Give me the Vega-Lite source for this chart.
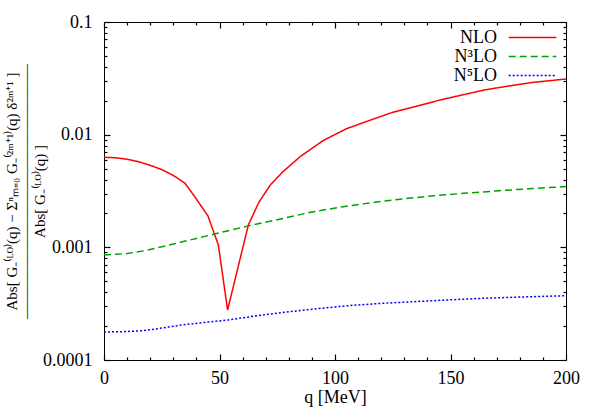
{
  "$schema": "https://vega.github.io/schema/vega-lite/v6.json",
  "width": 462,
  "height": 338,
  "autosize": "none",
  "padding": {"left": 104, "top": 22, "right": 33, "bottom": 60},
  "background": "white",
  "config": {
    "view": {"stroke": "black", "strokeWidth": 1},
    "font": "Liberation Serif",
    "axis": {
      "grid": false,
      "domain": false,
      "labelColor": "black",
      "titleColor": "black",
      "labelFont": "Liberation Serif",
      "titleFont": "Liberation Serif",
      "labelFontSize": 18,
      "titleFontSize": 18,
      "titleFontWeight": "normal"
    },
    "legend": {
      "labelFont": "Liberation Serif",
      "labelFontSize": 18,
      "labelColor": "black"
    }
  },
  "data": {
    "values": [
      {"s": "NLO", "q": 0, "v": 0.0063},
      {"s": "NLO", "q": 5, "v": 0.00624},
      {"s": "NLO", "q": 10, "v": 0.00605},
      {"s": "NLO", "q": 15, "v": 0.00575},
      {"s": "NLO", "q": 20, "v": 0.00535},
      {"s": "NLO", "q": 25, "v": 0.0049},
      {"s": "NLO", "q": 30, "v": 0.00435},
      {"s": "NLO", "q": 35, "v": 0.00372},
      {"s": "NLO", "q": 40, "v": 0.00268},
      {"s": "NLO", "q": 45, "v": 0.0019},
      {"s": "NLO", "q": 49.5, "v": 0.00105},
      {"s": "NLO", "q": 53.5, "v": 0.000278},
      {"s": "NLO", "q": 62.5, "v": 0.00158},
      {"s": "NLO", "q": 67, "v": 0.0025},
      {"s": "NLO", "q": 72, "v": 0.00358},
      {"s": "NLO", "q": 77.5, "v": 0.0047},
      {"s": "NLO", "q": 85, "v": 0.0064},
      {"s": "NLO", "q": 95, "v": 0.0089},
      {"s": "NLO", "q": 105, "v": 0.0113},
      {"s": "NLO", "q": 115, "v": 0.0134},
      {"s": "NLO", "q": 125, "v": 0.0158},
      {"s": "NLO", "q": 135, "v": 0.0178},
      {"s": "NLO", "q": 145, "v": 0.0202},
      {"s": "NLO", "q": 155, "v": 0.0225},
      {"s": "NLO", "q": 165, "v": 0.025},
      {"s": "NLO", "q": 175, "v": 0.027},
      {"s": "NLO", "q": 185, "v": 0.029},
      {"s": "NLO", "q": 192, "v": 0.03},
      {"s": "NLO", "q": 200, "v": 0.0312},
      {"s": "N³LO", "q": 0, "v": 0.000857},
      {"s": "N³LO", "q": 10, "v": 0.00088},
      {"s": "N³LO", "q": 17, "v": 0.00093},
      {"s": "N³LO", "q": 25, "v": 0.00101},
      {"s": "N³LO", "q": 34, "v": 0.00112},
      {"s": "N³LO", "q": 47, "v": 0.0013},
      {"s": "N³LO", "q": 62.5, "v": 0.00155},
      {"s": "N³LO", "q": 75, "v": 0.00176},
      {"s": "N³LO", "q": 90, "v": 0.00206},
      {"s": "N³LO", "q": 105, "v": 0.00232},
      {"s": "N³LO", "q": 115, "v": 0.00248},
      {"s": "N³LO", "q": 130, "v": 0.0027},
      {"s": "N³LO", "q": 143, "v": 0.00287},
      {"s": "N³LO", "q": 157, "v": 0.00303},
      {"s": "N³LO", "q": 171, "v": 0.00318},
      {"s": "N³LO", "q": 185, "v": 0.00332},
      {"s": "N³LO", "q": 200, "v": 0.00346},
      {"s": "N⁵LO", "q": 0, "v": 0.000177},
      {"s": "N⁵LO", "q": 10, "v": 0.000179},
      {"s": "N⁵LO", "q": 17, "v": 0.000182},
      {"s": "N⁵LO", "q": 25, "v": 0.000192},
      {"s": "N⁵LO", "q": 34, "v": 0.000205},
      {"s": "N⁵LO", "q": 45, "v": 0.000217},
      {"s": "N⁵LO", "q": 54, "v": 0.000227},
      {"s": "N⁵LO", "q": 65, "v": 0.000245},
      {"s": "N⁵LO", "q": 78, "v": 0.000265},
      {"s": "N⁵LO", "q": 92, "v": 0.000285},
      {"s": "N⁵LO", "q": 106, "v": 0.000304},
      {"s": "N⁵LO", "q": 120, "v": 0.000318},
      {"s": "N⁵LO", "q": 135, "v": 0.00033},
      {"s": "N⁵LO", "q": 150, "v": 0.000342},
      {"s": "N⁵LO", "q": 164, "v": 0.000353},
      {"s": "N⁵LO", "q": 182, "v": 0.000363},
      {"s": "N⁵LO", "q": 200, "v": 0.000372}
    ]
  },
  "layer": [
    {
      "mark": {"type": "line", "strokeWidth": 1.5},
      "encoding": {
        "x": {
          "field": "q",
          "type": "quantitative",
          "scale": {"domain": [0, 200], "nice": false, "zero": false},
          "axis": {
            "orient": "bottom",
            "values": [0, 50, 100, 150, 200],
            "tickColor": "black",
            "tickWidth": 1.2,
            "tickSize": 6,
            "offset": -6,
            "labelPadding": 9,
            "labelFlush": false,
            "labelBaseline": "top",
            "title": "q [MeV]",
            "titlePadding": 1
          }
        },
        "y": {
          "field": "v",
          "type": "quantitative",
          "scale": {"type": "log", "domain": [0.0001, 0.1], "nice": false},
          "axis": {
            "orient": "left",
            "values": [0.0001, 0.001, 0.01, 0.1],
            "tickColor": "black",
            "tickWidth": 1.2,
            "tickSize": 6,
            "offset": -6,
            "labelExpr": "format(datum.value, '~g')",
            "labelPadding": 12,
            "labelFlush": false,
            "labelBaseline": "middle",
            "title": ["Abs[ G₋⁽ᴸᴼ⁾(q) − Σⁿₘ₌₀ G₋⁽²ᵐ⁺¹⁾(q) δ²ᵐ⁺¹ ]", "—————————————————", "Abs[ G₋⁽ᴸᴼ⁾(q) ]"],
            "titleFontSize": 15,
            "titleLineHeight": 14,
            "titlePadding": -5
          }
        },
        "color": {
          "field": "s",
          "type": "nominal",
          "scale": {"domain": ["NLO", "N³LO", "N⁵LO"], "range": ["#ff0000", "#00a000", "#0000ff"]},
          "legend": {
            "title": null,
            "orient": "top-right",
            "offset": 6,
            "padding": 0,
            "symbolType": "M-2.8,0H2.8",
            "symbolSize": 289,
            "symbolStrokeWidth": 1.5,
            "labelAlign": "right",
            "labelOffset": -45,
            "rowPadding": 0
          }
        },
        "strokeDash": {
          "field": "s",
          "type": "nominal",
          "scale": {"domain": ["NLO", "N³LO", "N⁵LO"], "range": [[1, 0], [7, 4], [2, 2]]},
          "legend": {
            "title": null,
            "orient": "top-right",
            "offset": 6,
            "padding": 0,
            "symbolType": "M-2.8,0H2.8",
            "symbolSize": 289,
            "symbolStrokeWidth": 1.5,
            "labelAlign": "right",
            "labelOffset": -45,
            "rowPadding": 0
          }
        }
      }
    },
    {
      "mark": {"type": "line", "strokeOpacity": 0},
      "encoding": {
        "x": {
          "field": "q",
          "type": "quantitative",
          "scale": {"domain": [0, 200], "nice": false, "zero": false},
          "axis": {
            "orient": "bottom",
            "values": [10, 20, 30, 40, 60, 70, 80, 90, 110, 120, 130, 140, 160, 170, 180, 190],
            "tickColor": "black",
            "tickWidth": 1.2,
            "tickSize": 3,
            "offset": -3,
            "labels": false,
            "title": null
          }
        },
        "y": {
          "field": "v",
          "type": "quantitative",
          "scale": {"type": "log", "domain": [0.0001, 0.1], "nice": false},
          "axis": {
            "orient": "left",
            "values": [0.0002, 0.0003, 0.0004, 0.0005, 0.0006, 0.0007, 0.0008, 0.0009, 0.002, 0.003, 0.004, 0.005, 0.006, 0.007, 0.008, 0.009, 0.02, 0.03, 0.04, 0.05, 0.06, 0.07, 0.08, 0.09],
            "tickColor": "black",
            "tickWidth": 1.2,
            "tickSize": 3,
            "offset": -3,
            "labels": false,
            "title": null
          }
        },
        "detail": {"field": "s", "type": "nominal"}
      }
    },
    {
      "mark": {"type": "line", "strokeOpacity": 0},
      "encoding": {
        "x": {
          "field": "q",
          "type": "quantitative",
          "scale": {"domain": [0, 200], "nice": false, "zero": false},
          "axis": {
            "orient": "top",
            "values": [0, 50, 100, 150, 200],
            "tickColor": "black",
            "tickWidth": 1.2,
            "tickSize": 6,
            "offset": -6,
            "labels": false,
            "title": null
          }
        },
        "y": {
          "field": "v",
          "type": "quantitative",
          "scale": {"type": "log", "domain": [0.0001, 0.1], "nice": false},
          "axis": {
            "orient": "right",
            "values": [0.0001, 0.001, 0.01, 0.1],
            "tickColor": "black",
            "tickWidth": 1.2,
            "tickSize": 6,
            "offset": -6,
            "labels": false,
            "title": null
          }
        },
        "detail": {"field": "s", "type": "nominal"}
      }
    },
    {
      "mark": {"type": "line", "strokeOpacity": 0},
      "encoding": {
        "x": {
          "field": "q",
          "type": "quantitative",
          "scale": {"domain": [0, 200], "nice": false, "zero": false},
          "axis": {
            "orient": "top",
            "values": [10, 20, 30, 40, 60, 70, 80, 90, 110, 120, 130, 140, 160, 170, 180, 190],
            "tickColor": "black",
            "tickWidth": 1.2,
            "tickSize": 3,
            "offset": -3,
            "labels": false,
            "title": null
          }
        },
        "y": {
          "field": "v",
          "type": "quantitative",
          "scale": {"type": "log", "domain": [0.0001, 0.1], "nice": false},
          "axis": {
            "orient": "right",
            "values": [0.0002, 0.0003, 0.0004, 0.0005, 0.0006, 0.0007, 0.0008, 0.0009, 0.002, 0.003, 0.004, 0.005, 0.006, 0.007, 0.008, 0.009, 0.02, 0.03, 0.04, 0.05, 0.06, 0.07, 0.08, 0.09],
            "tickColor": "black",
            "tickWidth": 1.2,
            "tickSize": 3,
            "offset": -3,
            "labels": false,
            "title": null
          }
        },
        "detail": {"field": "s", "type": "nominal"}
      }
    }
  ],
  "resolve": {"axis": {"x": "independent", "y": "independent"}}
}
